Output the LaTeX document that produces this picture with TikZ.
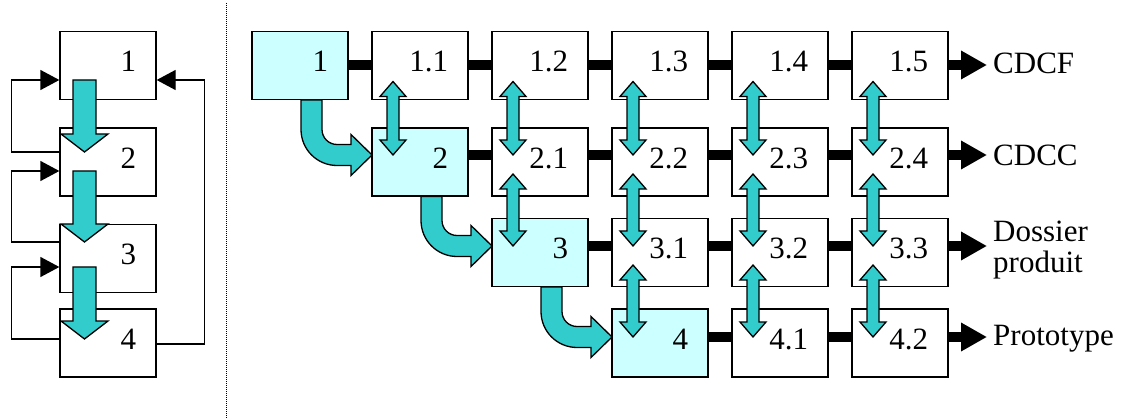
\documentclass[tikz,border=0pt]{standalone}
\usepackage{fontspec}
\setmainfont{Liberation Serif}
\usetikzlibrary{arrows.meta,calc}
\definecolor{arrcyan}{HTML}{33CCCC}
\definecolor{lightcyan}{HTML}{CCFFFF}
\newcommand{\myDblArrow}[3]{%
  \filldraw[cyanarr] ({#1},{#2}) -- ({#1+13},{#2+15}) -- ({#1+6},{#2+15}) -- ({#1+6},{#3-15}) -- ({#1+13},{#3-15}) -- ({#1},{#3}) -- ({#1-13},{#3-15}) -- ({#1-6},{#3-15}) -- ({#1-6},{#2+15}) -- ({#1-13},{#2+15}) -- cycle;}
\newcommand{\myBentArrow}[3]{%
  \filldraw[cyanarr] ({#1+49},{#2}) -- ({#1+70},{#2}) -- ({#1+70},{#3-25.5})
   .. controls ({#1+70},{#3-17.2}) and ({#1+76.7},{#3-10.5}) .. ({#1+85},{#3-10.5})
   -- ({#1+99},{#3-10.5}) -- ({#1+99},{#3-20.5}) -- ({#1+120},{#3}) -- ({#1+99},{#3+20.5})
   -- ({#1+99},{#3+10.5}) -- ({#1+85},{#3+10.5})
   .. controls ({#1+65.1},{#3+10.5}) and ({#1+49},{#3-5.6}) .. ({#1+49},{#3-25.5}) -- cycle;}
\newcommand{\myDownArrow}[2]{%
  \filldraw[cyanarr] (73,{#1}) -- (96,{#1}) -- (96,{#2}) -- (108,{#2}) -- (84.5,{#2+18}) -- (61,{#2}) -- (73,{#2}) -- cycle;}
\begin{document}
\begin{tikzpicture}[x=1pt,y=-1pt,
  box/.style={draw=black,line width=1.3pt,fill=white,minimum width=96pt,minimum height=68pt,
    inner xsep=20pt,inner ysep=0pt,text width=56pt,align=right,text height=21pt,text depth=8pt,
    font=\fontsize{31}{31}\selectfont},
  hot/.style={box,fill=lightcyan},
  cyanarr/.style={fill=arrcyan,draw=black,line width=1.3pt,line join=miter},
  link/.style={line width=10pt},
  outarr/.style={line width=10pt,-{Triangle[length=26pt,width=27pt]}},
  fb/.style={line width=1.3pt,-{Triangle[length=19pt,width=20pt]}},
  lbl/.style={inner sep=0pt,font=\fontsize{31}{31.5}\selectfont,align=left},
  sepline/.style={line width=1pt,dash pattern=on 1pt off 1pt}]
\useasboundingbox (0,0) rectangle (1123,419);
% ---------- left part ----------
\node[box] (L1) at (108,65.5) {1};
\node[box] (L2) at (108,162) {2};
\node[box] (L3) at (108,258.5) {3};
\node[box] (L4) at (108,343) {4};
\myDownArrow{80}{134}
\myDownArrow{171}{224}
\myDownArrow{267}{321}
\draw[fb] ([yshift=10pt]L2.west) -- ++(-48,0) |- ([yshift=-14.5pt]L1.west);
\draw[fb] ([yshift=16.5pt]L3.west) -- ++(-48,0) |- ([yshift=-9pt]L2.west);
\draw[fb] ([yshift=4pt]L4.west) -- ++(-48,0) |- ([yshift=-8.5pt]L3.west);
\draw[fb] ([yshift=-1pt]L4.east) -- ++(48,0) |- ([yshift=-14.5pt]L1.east);
% separator
\coordinate (sepTop) at (226,3);
\coordinate (sepBot) at (226,419);
\draw[sepline] (sepTop) -- (sepBot);
% ---------- grid ----------
\node[hot] (g10) at (300,65.5) {1};
\node[box] (g11) at (420,65.5) {1.1};
\node[box] (g12) at (540,65.5) {1.2};
\node[box] (g13) at (660,65.5) {1.3};
\node[box] (g14) at (780,65.5) {1.4};
\node[box] (g15) at (900,65.5) {1.5};
\node[hot] (g21) at (420,162) {2};
\node[box] (g22) at (540,162) {2.1};
\node[box] (g23) at (660,162) {2.2};
\node[box] (g24) at (780,162) {2.3};
\node[box] (g25) at (900,162) {2.4};
\node[hot] (g32) at (540,252.5) {3};
\node[box] (g33) at (660,252.5) {3.1};
\node[box] (g34) at (780,252.5) {3.2};
\node[box] (g35) at (900,252.5) {3.3};
\node[hot] (g43) at (660,343) {4};
\node[box] (g44) at (780,343) {4.1};
\node[box] (g45) at (900,343) {4.2};
% horizontal links
\foreach \r/\s/\st in {1/0.5/0,2/7/1,3/6.5/2,4/6/3}{
  \foreach \c in {\st,...,4}{
    \pgfmathtruncatemacro{\n}{\c+1}
    \draw[link] ([yshift=\s pt]g\r\c.east) -- ([yshift=\s pt]g\r\n.west);
  }
}
% outputs
\coordinate (o1) at (987,65);
\coordinate (o2) at (987,155);
\coordinate (o3) at (987,246);
\coordinate (o4) at (987,337);
\draw[outarr] ([yshift=0.5pt]g15.east) -- (o1);
\draw[outarr] ([yshift=7pt]g25.east) -- (o2);
\draw[outarr] ([yshift=6.5pt]g35.east) -- (o3);
\draw[outarr] ([yshift=6pt]g45.east) -- (o4);
\node[lbl,anchor=base west] (t1) at (993,73.3) {CDCF};
\node[lbl,anchor=base west] (t2) at (993,166) {CDCC};
\node[lbl,anchor=north west] (t3) at (993,220.5) {Dossier\\produit};
\node[lbl,anchor=base west] (t4) at (993,345) {Prototype};
% vertical double arrows
\foreach \c in {1,...,5}{\myDblArrow{273+120*\c}{81.5}{155}}
\foreach \c in {2,...,5}{\myDblArrow{273+120*\c}{174}{246}}
\foreach \c in {3,...,5}{\myDblArrow{273+120*\c}{265}{337}}
% bent arrows
\myBentArrow{252}{100}{155}
\myBentArrow{372}{196.5}{246}
\myBentArrow{492}{287}{337}
\end{tikzpicture}
\end{document}
